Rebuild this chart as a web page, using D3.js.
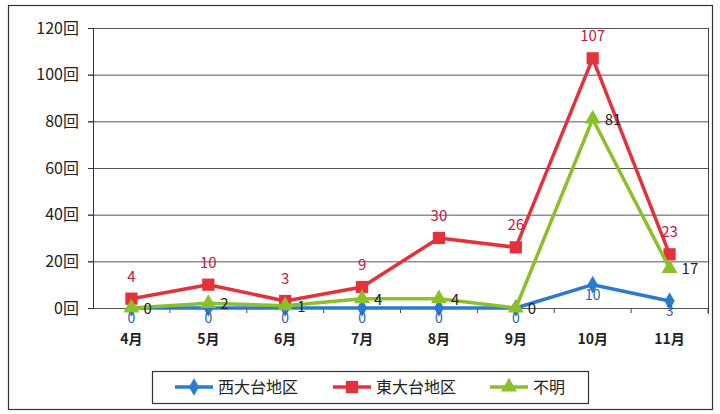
<!DOCTYPE html>
<html lang="ja">
<head>
<meta charset="utf-8">
<title>月別回数</title>
<script src="https://cdn.jsdelivr.net/npm/d3@7"></script>
<style>
  body { margin: 0; background: #fff; }
  text { font-family: "Noto Sans CJK JP", "Noto Sans", sans-serif; }
</style>
</head>
<body>
<div id="chart"></div>
<script>
// data
var months = ["4月", "5月", "6月", "7月", "8月", "9月", "10月", "11月"];
var nishi = [0, 0, 0, 0, 0, 0, 10, 3];
var higashi = [4, 10, 3, 9, 30, 26, 107, 23];
var fumei = [0, 2, 1, 4, 4, 0, 81, 17];
var yTicks = [0, 20, 40, 60, 80, 100, 120];

var w = 720, h = 414;
var m = {left: 93, right: 12, top: 28, bottom: 106};

var svg = d3.select("#chart").append("svg")
  .attr("width", w).attr("height", h);

// outer frame
svg.append("rect")
  .attr("x", 8.5).attr("y", 5.5).attr("width", 704).attr("height", 404)
  .attr("fill", "none").attr("stroke", "#333").attr("stroke-width", 1.2);

var x = d3.scaleBand().domain(months).range([m.left, w - m.right]);
var y = d3.scaleLinear().domain([0, 120]).range([h - m.bottom, m.top]);

// gridlines
svg.append("g").selectAll("line").data(yTicks).enter().append("line")
  .attr("x1", m.left - 5).attr("x2", w - m.right)
  .attr("y1", function(d){ return y(d) + 0.5; })
  .attr("y2", function(d){ return y(d) + 0.5; })
  .attr("stroke", "#555").attr("stroke-width", 1);

// y axis
var yAxis = svg.append("g")
  .attr("transform", "translate(" + m.left + ",0)")
  .call(d3.axisLeft(y).tickValues(yTicks).tickSize(5).tickFormat(function(d){ return d + "回"; }));
yAxis.select(".domain").attr("stroke", "#333");
yAxis.selectAll("line").attr("stroke", "#333");
yAxis.selectAll("text").attr("font-size", 16).attr("fill", "#222").attr("dx", -6);

// right edge of plot
svg.append("line")
  .attr("x1", w - m.right + 0.5).attr("x2", w - m.right + 0.5)
  .attr("y1", m.top).attr("y2", y(0) + 6)
  .attr("stroke", "#444");

// x axis
var xAxis = svg.append("g")
  .attr("transform", "translate(0," + y(0) + ")")
  .call(d3.axisBottom(x).tickSize(0).tickPadding(26));
xAxis.select(".domain").remove();
xAxis.selectAll("text").attr("font-size", 14).attr("font-weight", "bold").attr("fill", "#222");
svg.append("g").selectAll("line").data(months.slice(1).concat(["end"])).enter().append("line")
  .attr("x1", function(d, i){ return m.left + (i + 1) * x.bandwidth(); })
  .attr("x2", function(d, i){ return m.left + (i + 1) * x.bandwidth(); })
  .attr("y1", y(0) + 1).attr("y2", y(0) + 5)
  .attr("stroke", "#444");

function cx(d, i){ return x(months[i]) + x.bandwidth() / 2; }

var series = [
  {name: "西大台地区", values: nishi, color: "#2a7bd0", label: "#2a62b0", shape: d3.symbolDiamond, size: 90, dx: 0, dy: 15, fs: 14, anchor: "middle"},
  {name: "東大台地区", values: higashi, color: "#e3323c", label: "#c02040", shape: d3.symbolSquare, size: 150, dx: 0, dy: -17, fs: 15, anchor: "middle"},
  {name: "不明", values: fumei, color: "#8cc02a", label: "#222", shape: d3.symbolTriangle, size: 110, dx: 12, dy: 6, fs: 15, anchor: "start"}
];

var line = d3.line().x(cx).y(function(d){ return y(d); });

series.forEach(function(s){
  var g = svg.append("g");
  g.append("path").datum(s.values)
    .attr("d", line).attr("fill", "none")
    .attr("stroke", s.color).attr("stroke-width", 3.5).attr("stroke-linejoin", "round");
  g.selectAll("path.mk").data(s.values).enter().append("path")
    .attr("class", "mk")
    .attr("d", d3.symbol().type(s.shape).size(s.size))
    .attr("transform", function(d, i){ return "translate(" + cx(d, i) + "," + y(d) + ")"; })
    .attr("fill", s.color);
  g.selectAll("text").data(s.values).enter().append("text")
    .attr("x", function(d, i){ return cx(d, i) + s.dx; })
    .attr("y", function(d){ return y(d) + s.dy; })
    .attr("text-anchor", s.anchor)
    .attr("font-size", s.fs)
    .attr("fill", s.label)
    .text(function(d){ return d; });
});

// legend
var lg = svg.append("g");
lg.append("rect")
  .attr("x", 152.5).attr("y", 371.5).attr("width", 436).attr("height", 32)
  .attr("fill", "#fff").attr("stroke", "#333").attr("stroke-width", 1.2);
var lx = [175, 333, 490];
series.forEach(function(s, i){
  var gx = lx[i], gy = 387;
  lg.append("line").attr("x1", gx).attr("x2", gx + 38).attr("y1", gy).attr("y2", gy)
    .attr("stroke", s.color).attr("stroke-width", 3.5);
  lg.append("path").attr("d", d3.symbol().type(s.shape).size(s.size))
    .attr("transform", "translate(" + (gx + 19) + "," + gy + ")").attr("fill", s.color);
  lg.append("text").attr("x", gx + 43).attr("y", gy + 5.5)
    .attr("font-size", 16).attr("fill", "#222").text(s.name);
});
</script>
</body>
</html>
